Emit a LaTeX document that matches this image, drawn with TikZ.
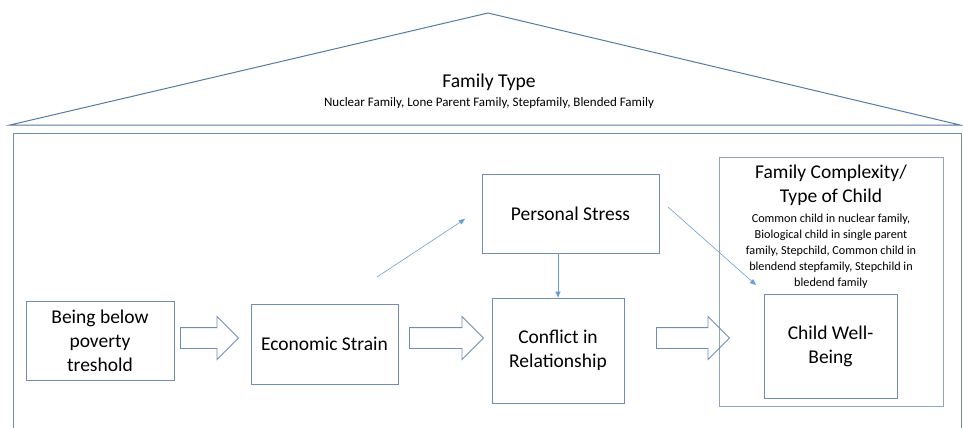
\documentclass[tikz,border=0pt]{standalone}
\usepackage{fontspec}
\setmainfont{Carlito}
\usepackage{xcolor}
\usepackage{tikz}
\usetikzlibrary{arrows.meta,shapes.arrows}

\definecolor{boxline}{RGB}{112,142,178}
\definecolor{roofline}{RGB}{84,122,166}
\definecolor{linkblue}{RGB}{106,158,210}

\begin{document}
\begin{tikzpicture}[x=1pt, y=-1pt,
    box/.style={draw=boxline, line width=0.9pt, align=center, inner sep=0pt,
                font=\fontsize{19.5}{24}\selectfont},
    bigarrow/.style={single arrow, draw=boxline, line width=0.9pt, inner sep=0pt,
                     text height=10pt, text depth=10pt, anchor=tail,
                     minimum width=42pt, single arrow head extend=11pt},
    link/.style={draw=linkblue, line width=0.6pt, -{Triangle[length=6pt,width=5pt]}},
    smalltext/.style={align=center, inner sep=0pt, font=\fontsize{12.2}{16}\selectfont}]
    \useasboundingbox (0,0) rectangle (963,428);

    % Roof
    \draw[roofline, line width=1pt] (10,125) -- (488,13) -- (960,125) -- cycle;
    \node[inner sep=0pt, font=\fontsize{19.6}{22}\selectfont] (ftype) at (489,82) {Family Type};
    \node[inner sep=0pt, font=\fontsize{13}{16}\selectfont] (fkinds) at (489,103) {Nuclear Family, Lone Parent Family, Stepfamily, Blended Family};

    % Frame
    \draw[boxline, line width=1pt] (13,432) |- (961,133) -- (961,432);

    % Nodes
    \node[box, minimum width=148pt, minimum height=79pt] (poverty) at (100,340.5) {Being below\\poverty\\treshold};
    \node[box, minimum width=147pt, minimum height=80pt] (strain) at (324.5,344) {Economic Strain};
    \node[box, minimum width=177pt, minimum height=79pt] (stress) at (570.5,213.5) {Personal Stress};
    \node[box, minimum width=132pt, minimum height=105pt] (conflict) at (558,350.5) {Conflict in\\Relationship};
    \node[draw=boxline!80, line width=0.8pt, minimum width=224pt, minimum height=249pt] (cplx) at (831,281.5) {};
    \node[align=center, inner sep=0pt, font=\fontsize{19.5}{24}\selectfont] (cplxtitle) at (831,185) {Family Complexity/\\Type of Child};
    \node[smalltext] (cplxkinds) at (831,251) {Common child in nuclear family,\\Biological child in single parent\\family, Stepchild, Common child in\\blendend stepfamily, Stepchild in\\bledend family};
    \node[box, minimum width=133pt, minimum height=104pt] (child) at (830.5,346) {Child Well-\\Being};

    % Block arrows between boxes
    \node[bigarrow, minimum height=58pt] (a1) at (180,338) {};
    \node[bigarrow, minimum height=74pt] (a2) at (409,338) {};
    \node[bigarrow, minimum height=73pt] (a3) at (656,338) {};

    % Thin arrows
    \coordinate (s1) at (377,277);
    \coordinate (s2) at (465,219);
    \coordinate (t1) at (668,207);
    \coordinate (t2) at (756,285);
    \draw[link] (s1) -- (s2);
    \draw[link] (t1) -- (t2);
    \draw[link] (stress.south -| conflict.north) -- (conflict.north);
\end{tikzpicture}
\end{document}
